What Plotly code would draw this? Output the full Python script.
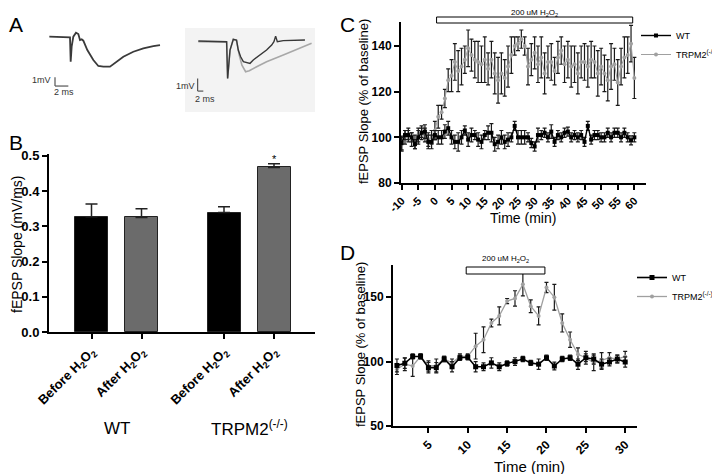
import plotly.graph_objects as go

W, H = 720, 474          # reference picture size
OX, OY = 8, 8            # page body margin the figure sits inside
FW, FH = W - OX, H - OY  # figure size
FONT = "Liberation Sans, Arial, sans-serif"

# ---------------- data ----------------
# A: example fEPSP traces (time in ms, voltage in mV)
wt_trace_t = [0, 2.85, 3.1, 3.2, 3.35, 3.6, 4.0, 4.35, 4.6, 4.85, 5.1, 5.7, 6.6, 7.35,
              8.1, 9.1, 10.1, 11.1, 12.6, 14.1, 15.6, 16.6]
wt_trace_v = [0, 0, -0.08, -2.88, -1.15, 0, 0.46, 0.31, -0.38, -0.31, -0.46, -1.54, -2.69,
              -3.38, -3.46, -3.46, -2.88, -2.31, -1.73, -1.35, -1.08, -0.96]

ko_before_t = [0, 10, 10.35, 11.2, 12.35, 13.5, 14.1, 14.95, 15.9, 17.05, 18.25, 19.4,
               21.75, 24.1, 25.9, 26.7, 27.3, 27.9, 30, 33.5, 37.65]
ko_before_v = [0, -0.05, -2.95, -0.71, 0.13, 0.08, -0.71, -1.24, -1.63, -1.71, -1.76, -1.5,
               -1.1, -0.71, -0.32, -0.05, 0.39, -0.05, 0.03, 0.08, 0.08]
ko_after_t = [0, 10, 10.35, 11.2, 12.35, 13.5, 14.45, 15.4, 16.7, 18.0, 20.6, 24.1, 30,
              35.9, 40]
ko_after_v = [-0.05, -0.1, -2.95, -0.71, 0.13, 0.03, -1.1, -1.9, -2.42, -2.34, -2.03, -1.63,
              -1.1, -0.58, -0.18]

# B: fEPSP slope (mV/ms)
groups = ["WT", "TRPM2<sup>(-/-)</sup>"]
conditions = ["Before H<sub>2</sub>O<sub>2</sub>", "After H<sub>2</sub>O<sub>2</sub>"]
slope_mean = [0.327, 0.325, 0.339, 0.467]
slope_sem = [0.036, 0.025, 0.016, 0.01]

# C: 200 uM H2O2, -10..60 min
c_time = list(range(-10, 61))
c_wt = [97.5, 101, 101, 100, 97, 100, 102, 102.5, 98, 98,
        101, 100, 100, 102.5, 104, 100, 98, 98, 100, 103,
        99, 101, 101, 99, 98, 101, 102, 102, 97, 98,
        100, 98, 99, 100, 105, 100, 100, 100, 100, 97.5,
        96, 101, 101, 102, 100, 102.5, 98, 101, 100, 102,
        102.5, 100, 101, 100, 101, 98, 105, 99, 101, 101,
        100, 100, 102, 100, 102, 102, 100, 102, 100, 98.7, 100]
c_wt_err = [3, 2, 3, 2, 2, 3, 2, 3, 3, 3,
            2, 3, 3, 3, 3, 3, 3, 4, 3, 2,
            3, 3, 2, 3, 3, 2, 3, 4, 3, 3,
            3, 3, 3, 2, 2, 3, 3, 3, 2, 2,
            2, 3, 2, 2, 2, 3, 2, 2, 2, 2,
            2, 2, 2, 2, 2, 2, 2, 2, 2, 2,
            2, 2, 2, 2, 2, 2, 2, 2, 2, 2, 2]
c_ko = [97, 100, 101, 99, 98, 101, 102, 101, 99, 100,
        103, 109, 111, 117, 125, 127, 133, 129, 131, 134,
        139, 136, 134, 133, 132, 134, 130, 134, 128, 125,
        128, 126, 131, 136, 140, 141, 143, 140, 131, 134,
        137, 132, 135, 128, 133, 133, 129, 135, 138, 132,
        134, 131, 132, 128, 133, 133, 131, 134, 133, 128,
        131, 128, 125, 131, 132, 124, 131, 135, 136, 141, 126]
c_ko_err = [3, 3, 2, 3, 3, 3, 3, 3, 3, 3,
            4, 5, 3, 4, 5, 7, 8, 9, 8, 6,
            8, 7, 8, 9, 8, 10, 7, 8, 9, 10,
            9, 8, 9, 8, 4, 3, 4, 4, 8, 7,
            7, 8, 9, 9, 7, 8, 6, 7, 6, 8,
            8, 9, 8, 9, 7, 8, 9, 8, 7, 10,
            8, 8, 9, 10, 7, 10, 8, 9, 8, 8, 9]
c_stim = [0.5, 59.5]

# D: 200 uM H2O2, 1..30 min
d_time = list(range(1, 31))
d_wt = [97, 98.7, 104, 104, 95.3, 95.3, 102, 96, 103, 103.4,
        96, 96, 99, 96, 98.5, 100, 102, 99, 98, 103,
        96.6, 102, 103, 98, 103, 102, 98, 99.7, 102, 99.7]
d_wt_err = [5, 4, 2, 2, 4, 4, 2, 4, 2, 2,
            4, 3, 4, 3, 2, 3, 2, 2, 4, 2,
            3, 2, 2, 4, 3, 4, 4, 3, 3, 4]
d_ko = [94, 98, 96.6, 104, 96.6, 97, 102, 99, 104, 104,
        112, 117, 130, 135.5, 147, 149, 160, 143, 135.5, 157.5,
        150, 130, 117, 105.7, 103, 99, 101, 103, 102, 104]
d_ko_err = [4, 5, 8, 2, 4, 5, 2, 3, 2, 2,
            10, 10, 3, 7, 2, 6, 9, 5, 7, 4,
            10, 7, 6, 5, 5, 6, 6, 4, 3, 4]
d_stim = [9.8, 19.8]

stim_label = "200 uM H<sub>2</sub>O<sub>2</sub>"


# ---------------- helpers (picture pixels -> paper) ----------------
def px(x):
    return (x - OX) / FW


def py(y):
    return 1 - (y - OY) / FH


def dom_x(a, b):
    return [px(a), px(b)]


def dom_y(top, bottom):
    return [py(bottom), py(top)]


def to_paper(v, dom, rng):
    return dom[0] + (v - rng[0]) / (rng[1] - rng[0]) * (dom[1] - dom[0])


B_dx, B_dy = dom_x(49, 315), dom_y(154, 332)
C_dx, C_dy = dom_x(401, 646), dom_y(22, 183)
D_dx, D_dy = dom_x(393, 637), dom_y(265, 426)
A1_dx, A1_dy = dom_x(30, 175), dom_y(25, 100)
A2_dx, A2_dy = dom_x(185, 315), dom_y(28, 112)
B_rx = [0.15, 5.47]
C_rx = [-10.2, 63.5]
D_rx = [0.5, 31.5]

fig = go.Figure()

# ---- A traces ----
fig.add_trace(go.Scatter(x=wt_trace_t, y=wt_trace_v, mode="lines", xaxis="x4", yaxis="y4",
                         line=dict(color="#3a3a3a", width=1.8), showlegend=False))
fig.add_trace(go.Scatter(x=ko_after_t, y=ko_after_v, mode="lines", xaxis="x5", yaxis="y5",
                         line=dict(color="#a8a8a8", width=1.6), showlegend=False))
fig.add_trace(go.Scatter(x=ko_before_t, y=ko_before_v, mode="lines", xaxis="x5", yaxis="y5",
                         line=dict(color="#383838", width=1.4), showlegend=False))

# ---- B bars ----
bar_x = [g * 2.65 + c + 1 for g in range(len(groups)) for c in range(len(conditions))]
bar_colors = ["#000000", "#6b6b6b", "#000000", "#6b6b6b"]
fig.add_trace(go.Bar(
    x=bar_x, y=slope_mean, width=0.66, xaxis="x", yaxis="y",
    marker=dict(color=bar_colors, line=dict(color="#222", width=1)),
    error_y=dict(type="data", array=slope_sem, arrayminus=[0] * 4, symmetric=False,
                 color="#222", thickness=1.5, width=6),
    showlegend=False))

# ---- C series ----
err_style = dict(type="data", color="#1a1a1a", thickness=1.2, width=2)
fig.add_trace(go.Scatter(
    x=c_time, y=c_ko, mode="lines+markers", name="TRPM2<sup>(-/-)</sup>", xaxis="x2", yaxis="y2",
    line=dict(color="#a0a0a0", width=1), marker=dict(symbol="circle", size=4, color="#a0a0a0"),
    error_y=dict(array=c_ko_err, **err_style), legend="legend", legendrank=2))
fig.add_trace(go.Scatter(
    x=c_time, y=c_wt, mode="lines+markers", name="WT", xaxis="x2", yaxis="y2",
    line=dict(color="#000", width=1.4), marker=dict(symbol="square", size=4, color="#000"),
    error_y=dict(array=c_wt_err, **err_style), legend="legend", legendrank=1))

# ---- D series ----
fig.add_trace(go.Scatter(
    x=d_time, y=d_ko, mode="lines+markers", name="TRPM2<sup>(-/-)</sup>", xaxis="x3", yaxis="y3",
    line=dict(color="#a0a0a0", width=1.3), marker=dict(symbol="circle", size=4, color="#a0a0a0"),
    error_y=dict(array=d_ko_err, **err_style), legend="legend2", legendrank=2))
fig.add_trace(go.Scatter(
    x=d_time, y=d_wt, mode="lines+markers", name="WT", xaxis="x3", yaxis="y3",
    line=dict(color="#000", width=1.6), marker=dict(symbol="square", size=5, color="#000"),
    error_y=dict(array=d_wt_err, **err_style), legend="legend2", legendrank=1))

axis_common = dict(showline=True, linecolor="#000", linewidth=2, ticks="outside",
                   tickcolor="#000", tickwidth=2, ticklen=5, showgrid=False, zeroline=False,
                   automargin=False, tickfont=dict(family=FONT, size=12, color="#000"))
hidden = dict(visible=False, showgrid=False, zeroline=False, automargin=False)

fig.update_layout(
    width=FW, height=FH, margin=dict(l=0, r=0, t=0, b=0, pad=0, autoexpand=False),
    paper_bgcolor="white", plot_bgcolor="rgba(0,0,0,0)",
    font=dict(family=FONT, color="#000"),
    bargap=0,
    xaxis=dict(domain=B_dx, range=B_rx, anchor="y", tickvals=bar_x,
               ticktext=["<b>" + c + "</b>" for c in conditions] * 2, tickangle=-45,
               **{**axis_common, "tickfont": dict(family=FONT, size=13, color="#000")}),
    yaxis=dict(domain=B_dy, range=[0, 0.505], anchor="x", tickvals=[0, 0.1, 0.2, 0.3, 0.4, 0.5],
               ticktext=["<b>%.1f</b>" % v for v in [0, 0.1, 0.2, 0.3, 0.4, 0.5]],
               **{**axis_common, "tickfont": dict(family=FONT, size=13, color="#000")}),
    xaxis2=dict(domain=C_dx, range=C_rx, anchor="y2", tickvals=list(range(-10, 61, 5)),
                ticktext=["<b>%d</b>" % v for v in range(-10, 61, 5)], tickangle=-45,
                **{**axis_common, "tickfont": dict(family=FONT, size=11, color="#000")}),
    yaxis2=dict(domain=C_dy, range=[80, 150.5], anchor="x2", tickvals=[80, 100, 120, 140],
                ticktext=["<b>%d</b>" % v for v in [80, 100, 120, 140]], **axis_common),
    xaxis3=dict(domain=D_dx, range=D_rx, anchor="y3", tickvals=list(range(5, 31, 5)),
                ticktext=["<b>%d</b>" % v for v in range(5, 31, 5)], tickangle=-45,
                **axis_common),
    yaxis3=dict(domain=D_dy, range=[50, 175], anchor="x3", tickvals=[50, 100, 150],
                ticktext=["<b>%d</b>" % v for v in [50, 100, 150]], **axis_common),
    xaxis4=dict(domain=A1_dx, range=[-2.9, 18.85], anchor="y4", **hidden),
    yaxis4=dict(domain=A1_dy, range=[-7.3, 1.35], anchor="x4", **hidden),
    xaxis5=dict(domain=A2_dx, range=[-4.7, 41.2], anchor="y5", **hidden),
    yaxis5=dict(domain=A2_dy, range=[-5.6, 1.03], anchor="x5", **hidden),
    legend=dict(x=px(636), y=py(21), xanchor="left", yanchor="top",
                font=dict(family=FONT, size=9), bgcolor="rgba(0,0,0,0)",
                itemwidth=30, tracegroupgap=2),
    legend2=dict(x=px(632), y=py(263), xanchor="left", yanchor="top",
                 font=dict(family=FONT, size=9), bgcolor="rgba(0,0,0,0)",
                 itemwidth=30, tracegroupgap=2),
)

shapes = []
annotations = []


def label(x, y, text, size, **kw):
    d = dict(xref="paper", yref="paper", x=px(x), y=py(y), text=text, showarrow=False,
             xanchor="center", yanchor="middle", font=dict(family=FONT, size=size, color="#000"))
    d.update(kw)
    return d


# A: grey background of right inset, scale bars
shapes.append(dict(type="rect", xref="x5 domain", yref="y5 domain", x0=0, x1=1, y0=0, y1=1,
                   fillcolor="#f3f3f3", line=dict(width=0), layer="below"))
for xr, yr, t0, v0, tick in [("x4", "y4", 0.85, -4.69, 2), ("x5", "y5", -0.24, -2.95, 2)]:
    shapes.append(dict(type="line", xref=xr, yref=yr, x0=t0, x1=t0, y0=v0, y1=v0 - 1,
                       line=dict(color="#555", width=1.2)))
    shapes.append(dict(type="line", xref=xr, yref=yr, x0=t0, x1=t0 + tick, y0=v0 - 1, y1=v0 - 1,
                       line=dict(color="#555", width=1.2)))
small = dict(showarrow=False, yanchor="middle", font=dict(family=FONT, size=9, color="#333"))
annotations += [
    dict(xref="x4", yref="y4", x=0.6, y=-5.0, text="1mV", xanchor="right", **small),
    dict(xref="x4", yref="y4", x=2.2, y=-6.4, text="2 ms", xanchor="center", **small),
    dict(xref="x5", yref="y5", x=-0.6, y=-3.55, text="1mV", xanchor="right", **small),
    dict(xref="x5", yref="y5", x=2.35, y=-4.55, text="2 ms", xanchor="center", **small),
]

# B: group labels, significance star, axis title
for g, name in enumerate(groups):
    gx = (bar_x[2 * g] + bar_x[2 * g + 1]) / 2
    d = label(0, 428, name, 17)
    d["x"] = to_paper(gx, B_dx, B_rx)
    annotations.append(d)
annotations.append(dict(xref="x", yref="y", x=bar_x[3], y=slope_mean[3] + slope_sem[3] + 0.014,
                        text="*", showarrow=False, xanchor="center", yanchor="middle",
                        font=dict(family=FONT, size=11, color="#000")))
annotations.append(label(17, 245, "fEPSP Slope (mV/ms)", 14, textangle=-90))

# C and D: stimulus bars, axis titles
for stim, dx, rx, top, bot, ly in [(c_stim, C_dx, C_rx, 17, 23, 13),
                                   (d_stim, D_dx, D_rx, 267, 274, 259)]:
    x0, x1 = to_paper(stim[0], dx, rx), to_paper(stim[1], dx, rx)
    shapes.append(dict(type="rect", xref="paper", yref="paper", x0=x0, x1=x1,
                       y0=py(bot), y1=py(top), line=dict(color="#000", width=1),
                       fillcolor="white"))
    d = label(0, ly, stim_label, 8)
    d["x"] = (x0 + x1) / 2
    annotations.append(d)

annotations += [
    label(364, 102, "fEPSP Slope (% of baseline)", 13, textangle=-90),
    label(523, 218, "Time (min)", 14),
    label(360, 345, "fEPSP Slope (% of baseline)", 13, textangle=-90),
    label(529, 466, "Time (min)", 15),
]

# panel letters
for letter, lx, ly in [("A", 16, 24), ("B", 16, 142), ("C", 347, 24), ("D", 347, 252)]:
    annotations.append(label(lx, ly, letter, 21))

fig.update_layout(shapes=shapes, annotations=annotations)

fig.write_html("out.html")
